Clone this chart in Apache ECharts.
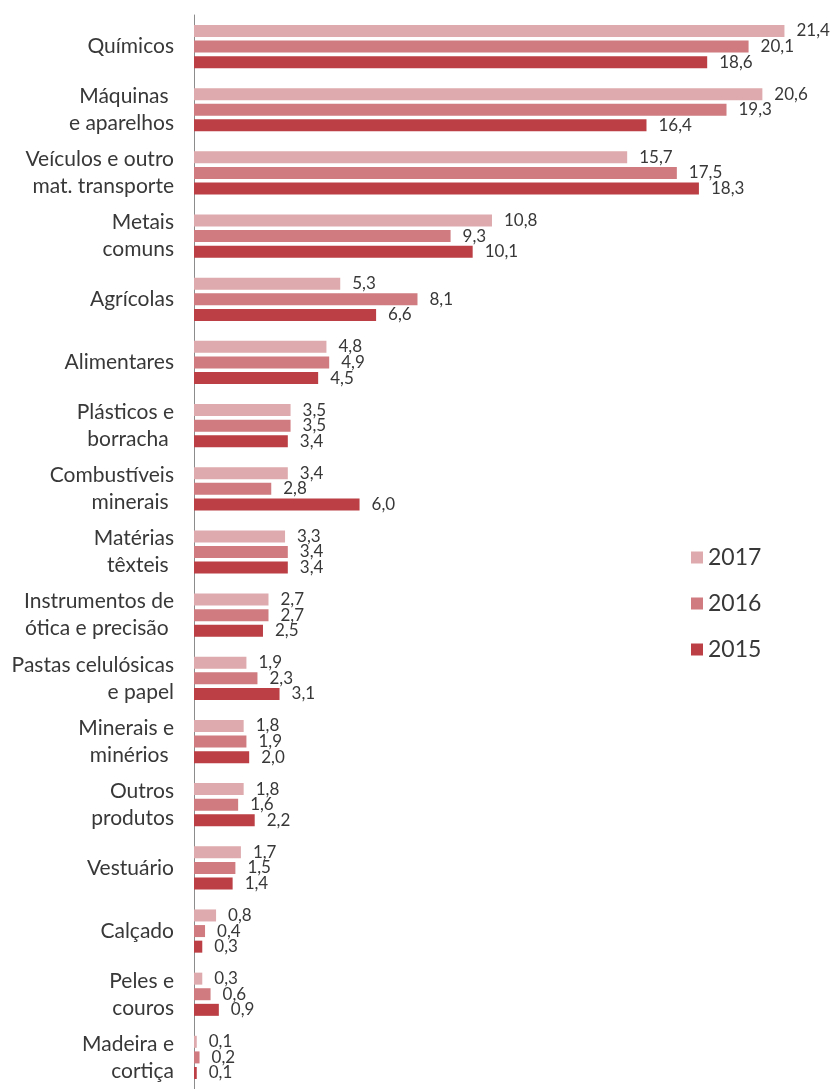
<!DOCTYPE html>
<html>
<head>
<meta charset="utf-8">
<script src="https://cdn.jsdelivr.net/npm/echarts@6/dist/echarts.min.js"></script>
<style>
  html, body { margin: 0; padding: 0; background: #ffffff; }
  #chart { width: 837px; height: 1089px; }
</style>
</head>
<body>
<div id="chart"></div>
<script>
// Product groups (top to bottom)
const categories = [
  'Químicos',
  'Máquinas \ne aparelhos',
  'Veículos e outro\nmat. transporte',
  'Metais\ncomuns',
  'Agrícolas',
  'Alimentares',
  'Plásticos e\nborracha ',
  'Combustíveis\nminerais ',
  'Matérias\ntêxteis ',
  'Instrumentos de\nótica e precisão ',
  'Pastas celulósicas\ne papel',
  'Minerais e\nminérios ',
  'Outros\nprodutos',
  'Vestuário',
  'Calçado',
  'Peles e\ncouros',
  'Madeira e\ncortiça'
];

const seriesNames = ['2017', '2016', '2015'];
const values2017 = [21.4, 20.6, 15.7, 10.8, 5.3, 4.8, 3.5, 3.4, 3.3, 2.7, 1.9, 1.8, 1.8, 1.7, 0.8, 0.3, 0.1];
const values2016 = [20.1, 19.3, 17.5, 9.3, 8.1, 4.9, 3.5, 2.8, 3.4, 2.7, 2.3, 1.9, 1.6, 1.5, 0.4, 0.6, 0.2];
const values2015 = [18.6, 16.4, 18.3, 10.1, 6.6, 4.5, 3.4, 6.0, 3.4, 2.5, 3.1, 2.0, 2.2, 1.4, 0.3, 0.9, 0.1];
const colors = ['#deaaad', '#cf7b7f', '#bb3f45'];

const FONT = 'Lato';
const TEXT = '#383838';

function makeSeries(name, data, color) {
  return {
    name: name,
    type: 'bar',
    data: data,
    barWidth: 12,
    barGap: '30%',
    itemStyle: { color: color },
    label: {
      show: true,
      position: 'right',
      distance: 12,
      color: TEXT,
      fontFamily: FONT,
      fontSize: 17,
      formatter: p => p.value.toFixed(1).replace('.', ',')
    }
  };
}

const chart = echarts.init(document.getElementById('chart'));
chart.setOption({
  animation: false,
  backgroundColor: '#ffffff',
  grid: { left: 194, right: 36, top: 15, bottom: -2, containLabel: false },
  legend: {
    orient: 'vertical',
    left: 686,
    top: 541,
    itemWidth: 12,
    itemHeight: 12,
    itemGap: 23,
    itemTextGap: 5,
    icon: 'rect',
    data: seriesNames,
    textStyle: { color: TEXT, fontFamily: FONT, fontSize: 23 }
  },
  xAxis: {
    type: 'value',
    min: 0,
    max: 22,
    show: false,
    splitLine: { show: false }
  },
  yAxis: {
    type: 'category',
    inverse: true,
    data: categories,
    axisLine: { show: true, lineStyle: { color: '#8c8c8c', width: 1 } },
    axisTick: { show: false },
    axisLabel: {
      color: TEXT,
      fontFamily: FONT,
      fontSize: 21,
      lineHeight: 27,
      margin: 20,
      align: 'right'
    }
  },
  series: [
    makeSeries(seriesNames[0], values2017, colors[0]),
    makeSeries(seriesNames[1], values2016, colors[1]),
    makeSeries(seriesNames[2], values2015, colors[2])
  ]
});
</script>
</body>
</html>
